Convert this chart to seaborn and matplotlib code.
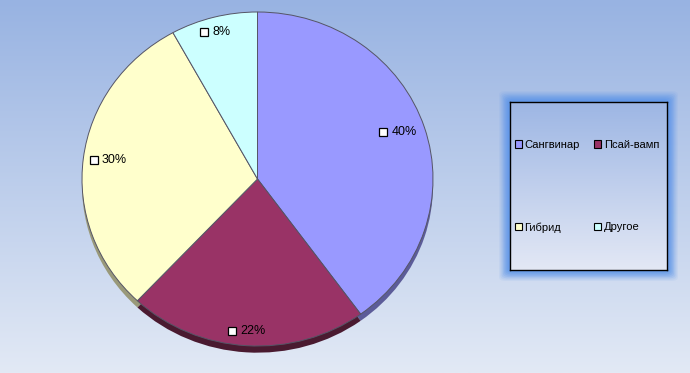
import numpy as np
import matplotlib
matplotlib.use("Agg")
import matplotlib.pyplot as plt
import matplotlib.patches as mpatches
import matplotlib.transforms as mtransforms
import seaborn as sns

categories = ["Сангвинар", "Псай-вамп", "Гибрид", "Другое"]
values = [40, 22, 30, 8]
colors = ["#9999FF", "#993366", "#FFFFCC", "#CCFFFF"]
dark_colors = ["#5C5C99", "#4A1A30", "#99997A", "#7A9999"]

sns.set_style("white")
plt.rcParams['font.family'] = ['Liberation Sans', 'DejaVu Sans']
plt.rcParams['text.color'] = 'black'

W, H = 690, 373
fig = plt.figure(figsize=(W / 100, H / 100), dpi=100)

# background gradient
bg = fig.add_axes([0, 0, 1, 1])
top = np.array([0x98, 0xB3, 0xE2]) / 255
bot = np.array([0xE2, 0xE9, 0xF5]) / 255
t = np.linspace(0, 1, 256)[:, None]
grad = top[None, :] * (1 - t) + bot[None, :] * t
bg.imshow(grad[:, None, :], aspect='auto', extent=[0, 1, 0, 1])
bg.set_axis_off()

# pie axes
ax = fig.add_axes([82 / W, (H - 346) / H, 351 / W, 334 / H])
ax.set_axis_off()
# 3d rim shadow
ax.pie(values, colors=dark_colors, startangle=90, counterclock=False,
       center=(0, -0.04), wedgeprops=dict(linewidth=0))
wedges, texts, autotexts = ax.pie(
    values, colors=colors, startangle=90, counterclock=False,
    autopct=lambda p: f"{p:.0f}%", pctdistance=0.85,
    wedgeprops=dict(edgecolor="#555566", linewidth=0.7))
ax.set_aspect('auto')
ax.set_xlim(-1, 1)
ax.set_ylim(-1, 1)

for at in autotexts:
    x, y = at.get_position()
    y = y * 1.07
    at.set_position((x, y))
    at.set_fontsize(9)
    at.set_color('black')
    at.set_ha('left')
    at.set_va('center')
    at.set_transform(mtransforms.offset_copy(ax.transData, fig=fig, x=-5.5, y=0, units='points'))
    ax.plot([x], [y], marker='s', markersize=5.2, markerfacecolor='white',
            markeredgecolor='black', markeredgewidth=0.9, linestyle='none',
            transform=mtransforms.offset_copy(ax.transData, fig=fig, x=-11.5, y=0, units='points'))

# legend box with glow
lx0, ly0, lx1, ly1 = 510, 102, 667, 270
for i, a in enumerate(np.linspace(0.08, 0.35, 8)):
    pad = 11 - i * 1.3
    r = mpatches.FancyBboxPatch(((lx0 - pad) / W, (H - ly1 - pad) / H),
                                (lx1 - lx0 + 2 * pad) / W, (ly1 - ly0 + 2 * pad) / H,
                                boxstyle="round,pad=0,rounding_size=0.01",
                                transform=fig.transFigure, facecolor="#5A93E8",
                                edgecolor='none', alpha=a, zorder=1)
    fig.patches.append(r)
lax = fig.add_axes([lx0 / W, (H - ly1) / H, (lx1 - lx0) / W, (ly1 - ly0) / H], zorder=2)
top2 = np.array([0x9D, 0xB6, 0xE4]) / 255
bot2 = np.array([0xE3, 0xE8, 0xF5]) / 255
grad2 = top2[None, :] * (1 - t) + bot2[None, :] * t
lax.imshow(grad2[:, None, :], aspect='auto', extent=[0, 1, 0, 1])
lax.set_xticks([]); lax.set_yticks([])
for s in lax.spines.values():
    s.set_edgecolor('black'); s.set_linewidth(1.0)

handles = [mpatches.Patch(facecolor=c, edgecolor='black', linewidth=0.8) for c in colors]
order = [0, 2, 1, 3]  # row-major fill: Сангвинар, Псай-вамп / Гибрид, Другое
leg = lax.legend([handles[i] for i in order], [categories[i] for i in order],
                 ncol=2, loc='upper left',
                 bbox_to_anchor=((515 - lx0) / (lx1 - lx0), 1 - (140 - ly0) / (ly1 - ly0)),
                 frameon=False, borderpad=0,
                 fontsize=8, handlelength=0.65, handleheight=0.65, handletextpad=0.2,
                 columnspacing=1.3, labelspacing=6.5, borderaxespad=0)

fig.savefig("out.png", dpi=100)
